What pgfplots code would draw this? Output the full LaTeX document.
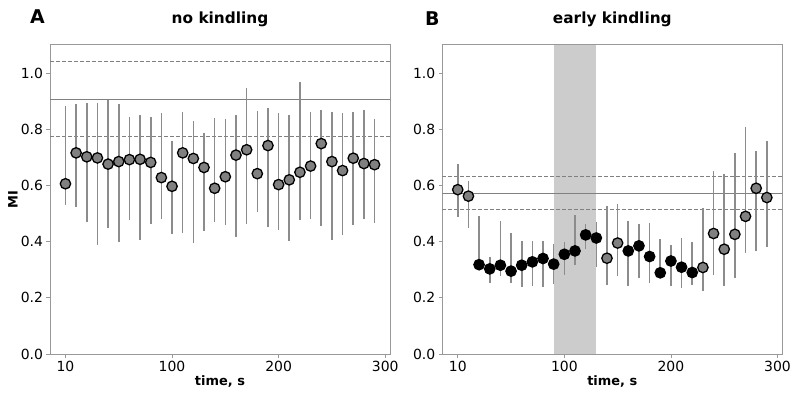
\documentclass[border=0pt]{standalone}
\usepackage{fontspec}
\setmainfont{DejaVu Sans}
\usepackage{pgfplots}
\usepackage{pgfplotstable}
\pgfplotsset{compat=1.18}

% MI per 10 s window: mean, lower and upper bound of the spread
\pgfplotstableread{
x  y     lo    hi
0  0.606 0.532 0.884
1  0.716 0.522 0.891
2  0.702 0.470 0.894
3  0.698 0.387 0.895
4  0.676 0.447 0.903
5  0.685 0.399 0.891
6  0.692 0.477 0.845
7  0.693 0.406 0.851
8  0.682 0.463 0.843
9  0.628 0.482 0.859
10 0.597 0.428 0.760
11 0.716 0.430 0.863
12 0.696 0.394 0.828
13 0.664 0.437 0.788
14 0.590 0.471 0.840
15 0.631 0.458 0.836
16 0.708 0.418 0.851
17 0.727 0.463 0.946
18 0.642 0.506 0.866
19 0.742 0.451 0.876
20 0.603 0.442 0.857
21 0.620 0.404 0.850
22 0.647 0.477 0.967
23 0.669 0.480 0.860
24 0.749 0.456 0.867
25 0.685 0.406 0.862
26 0.653 0.425 0.857
27 0.697 0.458 0.862
28 0.678 0.480 0.870
29 0.674 0.465 0.837
}\nokindling

% c: g = within baseline range, k = significantly below baseline
\pgfplotstableread{
x  y     lo    hi    c
0  0.585 0.487 0.677 g
1  0.562 0.449 0.617 g
2  0.318 0.300 0.492 k
3  0.303 0.254 0.347 k
4  0.316 0.276 0.475 k
5  0.295 0.254 0.430 k
6  0.316 0.240 0.403 k
7  0.328 0.242 0.403 k
8  0.340 0.240 0.403 k
9  0.320 0.249 0.391 k
10 0.355 0.280 0.400 k
11 0.367 0.316 0.494 k
12 0.424 0.373 0.462 k
13 0.413 0.311 0.471 k
14 0.341 0.245 0.526 g
15 0.395 0.276 0.533 g
16 0.367 0.242 0.473 k
17 0.385 0.270 0.463 k
18 0.347 0.252 0.466 k
19 0.289 0.270 0.409 k
20 0.331 0.243 0.388 k
21 0.309 0.235 0.414 k
22 0.290 0.245 0.399 k
23 0.308 0.226 0.520 g
24 0.429 0.280 0.651 g
25 0.373 0.242 0.640 g
26 0.426 0.270 0.717 g
27 0.490 0.359 0.807 g
28 0.590 0.368 0.722 g
29 0.557 0.380 0.760 g
}\earlykindling

\definecolor{spine}{HTML}{999999}
\definecolor{refline}{HTML}{808080}
\definecolor{errbar}{HTML}{8C8C8C}
\definecolor{dotfill}{HTML}{808080}
\definecolor{stim}{HTML}{CCCCCC}

\pgfplotsset{
  mipanel/.style={
    anchor=south west,
    scale only axis, width=340bp, height=309bp,
    xmin=-1.45, xmax=30.45, ymin=0, ymax=1.1,
    xtick={0,10,20,30}, xticklabels={10,100,200,300},
    ytick={0,0.2,0.4,0.6,0.8,1.0},
    yticklabel style={/pgf/number format/.cd, fixed, fixed zerofill, precision=1},
    /pgf/number format/assume math mode=true,
    tick label style={font=\fontsize{14}{16}\selectfont},
    tick align=outside, major tick length=3.5bp,
    tick style={spine, line width=0.8bp},
    axis line style={spine, line width=1bp},
    xtick pos=bottom, ytick pos=left,
    title style={font=\bfseries\fontsize{15.4}{18}\selectfont,
      at={(axis description cs:0.5,1)}, anchor=base, yshift=16bp},
    xlabel={\textbf{time, s}},
    xlabel style={font=\fontsize{13}{15}\selectfont,
      at={(axis description cs:0.5,0)}, anchor=base, yshift=-31bp},
    clip=true,
  },
  bars/.style={draw=none, mark=none,
    error bars/.cd, y dir=both, y explicit, error mark=none,
    error bar style={draw=errbar, line width=1.6bp}},
  dots/.style={only marks, mark=*, mark size=5.2bp,
    mark options={fill=dotfill, draw=black, line width=1.3bp}},
}

\begin{document}
\begin{tikzpicture}
\useasboundingbox (0,0) rectangle (795bp,393bp);

\node[anchor=base west, font=\bfseries\fontsize{19}{22}\selectfont]
  at (26.5bp,369.5bp) {A};
\node[anchor=base west, font=\bfseries\fontsize{19}{22}\selectfont]
  at (421.5bp,367.5bp) {B};

% no kindling
\begin{axis}[mipanel, at={(50bp,39bp)},
  title={no kindling},
  ylabel={\textbf{MI}},
  ylabel style={font=\fontsize{13}{15}\selectfont,
    at={(axis description cs:0,0.5)}, anchor=center, yshift=37bp},
]
\addplot[refline, line width=1bp] coordinates {(-2,0.907) (32,0.907)};
\addplot[refline, line width=1bp, dash pattern=on 4bp off 2bp]
  coordinates {(-2,1.041) (32,1.041)};
\addplot[refline, line width=1bp, dash pattern=on 4bp off 2bp]
  coordinates {(-2,0.773) (32,0.773)};
\addplot[bars] table[x=x, y=y,
  y error plus expr=\thisrow{hi}-\thisrow{y},
  y error minus expr=\thisrow{y}-\thisrow{lo}] {\nokindling};
\addplot[dots] table[x=x, y=y] {\nokindling};
\end{axis}

% early kindling
\begin{axis}[mipanel, at={(442.3bp,39bp)},
  title={early kindling},
]
\addplot[fill=stim, draw=none] coordinates {(9,0) (9,1.1) (13,1.1) (13,0)} -- cycle;
\addplot[refline, line width=1bp] coordinates {(-2,0.5725) (32,0.5725)};
\addplot[refline, line width=1bp, dash pattern=on 4bp off 2bp]
  coordinates {(-2,0.632) (32,0.632)};
\addplot[refline, line width=1bp, dash pattern=on 4bp off 2bp]
  coordinates {(-2,0.514) (32,0.514)};
\addplot[bars] table[x=x, y=y,
  y error plus expr=\thisrow{hi}-\thisrow{y},
  y error minus expr=\thisrow{y}-\thisrow{lo}] {\earlykindling};
\addplot[only marks, mark size=5.2bp,
  scatter, scatter src=explicit symbolic,
  scatter/classes={
    g={mark=*, fill=dotfill, draw=black, line width=1.3bp},
    k={mark=*, fill=black, draw=black, line width=1.3bp}}]
  table[x=x, y=y, meta=c] {\earlykindling};
\end{axis}
\end{tikzpicture}
\end{document}
